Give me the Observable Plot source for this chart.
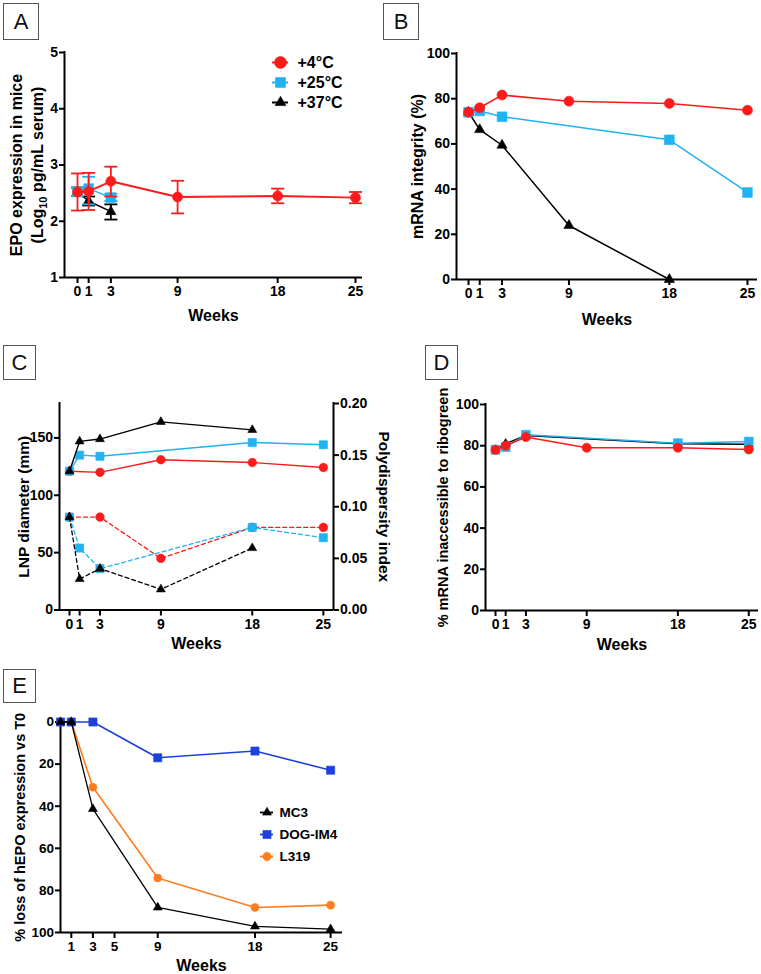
<!DOCTYPE html>
<html><head><meta charset="utf-8">
<script src="https://cdn.jsdelivr.net/npm/d3@7"></script>
<script src="https://cdn.jsdelivr.net/npm/@observablehq/plot@0.6"></script>
<style>
body{margin:0;background:#fff;}
#fig{position:relative;width:761px;height:974px;overflow:hidden;background:#fff;font-family:"Liberation Sans",Arial,Helvetica,sans-serif;}
.plab{position:absolute;border:1px solid #555;font-size:22px;display:flex;align-items:center;justify-content:center;color:#111;box-sizing:border-box;background:#fff;}
</style></head><body><div id="fig"></div>
<script>
// ---------------- DATA ----------------
const weekTicks = [0, 1, 3, 9, 18, 25];
const weekTicksE = [1, 3, 5, 9, 18, 25];
const tempNames = ["+4°C", "+25°C", "+37°C"];
const lipidNames = ["MC3", "DOG-IM4", "L319"];

// Panel A: EPO expression (log10 pg/mL), mean and error limits
const aWeeks4 = [0, 1, 3, 9, 18, 25];
const aMean4 = [2.52, 2.53, 2.71, 2.43, 2.45, 2.42];
const aLo4 = [2.19, 2.20, 2.44, 2.14, 2.32, 2.32];
const aHi4 = [2.85, 2.86, 2.97, 2.72, 2.58, 2.52];
const aWeeks25 = [0, 1, 3];
const aMean25 = [2.52, 2.58, 2.42];
const aLo25 = [2.45, 2.30, 2.36];
const aHi25 = [2.60, 2.79, 2.49];
const aWeeks37 = [0, 1, 3];
const aMean37 = [2.52, 2.36, 2.17];
const aLo37 = [2.45, 2.28, 2.03];
const aHi37 = [2.60, 2.44, 2.30];

// Panel B: mRNA integrity (%)
const bWeeks4 = [0, 1, 3, 9, 18, 25];
const bVal4 = [74, 76, 81.6, 78.9, 77.9, 74.9];
const bWeeks25 = [0, 1, 3, 18, 25];
const bVal25 = [74, 74.6, 72, 61.8, 38.5];
const bWeeks37 = [0, 1, 3, 9, 18];
const bVal37 = [74, 66.3, 59.4, 23.9, 0];

// Panel C: LNP diameter (solid) and polydispersity index (dashed)
const cWeeks4 = [0, 3, 9, 18, 25];
const cDiam4 = [121, 120, 131, 128.6, 124.2];
const cPdi4 = [0.09, 0.09, 0.05, 0.08, 0.08];
const cWeeks25 = [0, 1, 3, 18, 25];
const cDiam25 = [121, 135, 134, 146, 144];
const cPdi25 = [0.09, 0.06, 0.04, 0.08, 0.07];
const cWeeks37 = [0, 1, 3, 9, 18];
const cDiam37 = [121, 147, 149, 164, 157];
const cPdi37 = [0.09, 0.03, 0.04, 0.02, 0.06];

// Panel D: % mRNA inaccessible to ribogreen
const dWeeks4 = [0, 1, 3, 9, 18, 25];
const dVal4 = [78, 80, 84.2, 79, 79, 78.2];
const dWeeks25 = [0, 1, 3, 18, 25];
const dVal25 = [78, 79.3, 85.3, 81.2, 82];
const dWeeks37 = [0, 1, 3, 18, 25];
const dVal37 = [78, 81, 85, 81, 80.7];

// Panel E: % loss of hEPO expression vs T0
const eWeeks = [0, 1, 3, 9, 18, 25];
const eMC3 = [0, 0, 41.3, 88.1, 97.1, 98.4];
const eDOG = [0, 0, 0, 17, 13.8, 22.9];
const eL319 = [0, 0, 31, 74.1, 88.1, 87];

// ---------------- STYLE ----------------
const FONT = '"Liberation Sans", Arial, Helvetica, sans-serif';
const RED = "#fd1a1a", SKY = "#21b2f2", BLACK = "#000000", NAVY = "#1e40dd", ORANGE = "#ff7d20";
const tempColors = [RED, SKY, BLACK];
const tempSymbols = ["circle", "square", "triangle"];
const lipidColors = [BLACK, NAVY, ORANGE];
const lipidSymbols = ["triangle", "square", "circle"];

const fig = document.getElementById("fig");
function mount(svg, box) {
  svg.style.position = "absolute";
  svg.style.left = box.L + "px";
  svg.style.top = box.T + "px";
  svg.style.maxWidth = "none";
  fig.appendChild(svg);
  return svg;
}
function frame(box, p) {
  return {width: box.W, height: box.H,
    marginLeft: p.x0 - box.L, marginRight: box.L + box.W - p.x1,
    marginTop: p.y0 - box.T, marginBottom: box.T + box.H - p.y1};
}
function style(fs) {
  return {fontFamily: FONT, fontSize: fs + "px", fontWeight: "bold", color: "#000", background: "transparent", overflow: "visible"};
}
const pts = (xs, ys) => xs.map((x, i) => ({x, y: ys[i]}));
function series(data, color, symbol, r, sw, dash, k = 1) {
  return [
    Plot.line(data, {x: "x", y: d => d.y * k, stroke: color, strokeWidth: sw, strokeDasharray: dash}),
    Plot.dot(data, {x: "x", y: d => d.y * k, symbol, r, fill: color, stroke: color, strokeWidth: 0.6})
  ];
}
function symR(symbol, rs) { return symbol === "circle" ? rs[0] : symbol === "square" ? rs[1] : rs[2]; }
const capSymbol = {draw(ctx, size) { const r = Math.sqrt(size / Math.PI); ctx.moveTo(-r, 0); ctx.lineTo(r, 0); }};
function errs(xs, lo, hi, color) {
  const d = xs.map((x, i) => ({x, lo: lo[i], hi: hi[i]}));
  return [
    Plot.ruleX(d, {x: "x", y1: "lo", y2: "hi", stroke: color, strokeWidth: 1.8}),
    Plot.dot(d, {x: "x", y: "lo", symbol: capSymbol, r: 6.5, stroke: color, strokeWidth: 1.8, fill: "none"}),
    Plot.dot(d, {x: "x", y: "hi", symbol: capSymbol, r: 6.5, stroke: color, strokeWidth: 1.8, fill: "none"})
  ];
}
function frameAxes(xDom, yDom, xt, yt, opts = {}) {
  return [
    Plot.ruleY([yDom[opts.reverse ? 1 : 0]], {strokeWidth: 2}),
    Plot.ruleX([xDom[0]], {strokeWidth: 2, strokeLinecap: "square"}),
    Plot.axisX({ticks: xt, tickSize: 6, tickPadding: 3, strokeWidth: 2, label: null, tickFormat: d => String(d)}),
    Plot.axisY({ticks: yt, tickSize: 5, tickPadding: 1.5, strokeWidth: 2, label: null, tickFormat: opts.yfmt ?? (d => String(d))})
  ];
}
function xTitle(dy, fs = 16) {
  return Plot.text(["Weeks"], {text: d => d, frameAnchor: "bottom", dy, lineAnchor: "middle", textAnchor: "middle", fontSize: fs});
}
function yTitle(t, dx, fs = 15, side = "left") {
  return Plot.text([t], {text: d => d, frameAnchor: side, rotate: side === "left" ? -90 : 90, dx, lineAnchor: "middle", textAnchor: "middle", fontSize: fs});
}
function legend(box, p, names, colors, symbols, rs, fs, textDx, lineW) {
  const marks = [];
  names.forEach((n, i) => {
    marks.push(Plot.tickY([n], {y: d => d, stroke: colors[i], strokeWidth: lineW}));
    marks.push(Plot.dot([n], {y: d => d, symbol: symbols[i], r: symR(symbols[i], rs), fill: colors[i], stroke: colors[i], strokeWidth: 0.6}));
    marks.push(Plot.text([n], {y: d => d, text: d => d, frameAnchor: "right", dx: textDx, textAnchor: "start", fontSize: fs}));
  });
  const svg = Plot.plot({...frame(box, p), style: style(fs),
    y: {type: "point", domain: names, padding: 0, axis: null}, marks});
  return mount(svg, box);
}
function panelLabel(t, L, T, W, H) {
  const d = document.createElement("div");
  d.className = "plab"; d.textContent = t;
  Object.assign(d.style, {left: L + "px", top: T + "px", width: W + "px", height: H + "px"});
  fig.appendChild(d);
}

// ---------------- PANEL A ----------------
{
  const box = {L: 0, T: 0, W: 380, H: 330}, p = {x0: 64, x1: 362, y0: 52, y1: 277};
  const xDom = [-1.17, 25.63], yDom = [1, 5];
  const rs = [5, 5.5, 3.8];
  const svg = Plot.plot({...frame(box, p), style: style(14),
    x: {domain: xDom}, y: {domain: yDom},
    marks: [
      ...frameAxes(xDom, yDom, weekTicks, [1, 2, 3, 4, 5]),
      ...errs(aWeeks37, aLo37, aHi37, BLACK),
      ...series(pts(aWeeks37, aMean37), BLACK, "triangle", rs[2], 1.5),
      ...errs(aWeeks25, aLo25, aHi25, SKY),
      ...series(pts(aWeeks25, aMean25), SKY, "square", rs[1], 1.5),
      ...errs(aWeeks4, aLo4, aHi4, RED),
      ...series(pts(aWeeks4, aMean4), RED, "circle", rs[0], 2),
      xTitle(38),
      yTitle("EPO expression in mice", -48, 16),
      yTitle("(Log10 pg/mL serum)", -27, 16)
    ]});
  mount(svg, box);
  d3.select(svg).selectAll("text").filter(function () { return this.textContent === "(Log10 pg/mL serum)"; }).each(function () {
    const t = d3.select(this); t.text(null);
    t.append("tspan").text("(Log");
    t.append("tspan").attr("font-size", "11px").attr("dy", 4).text("10");
    t.append("tspan").attr("dy", -4).text(" pg/mL serum)");
  });
  legend({L: 262, T: 48, W: 100, H: 66}, {x0: 272, x1: 288, y0: 61, y1: 102},
    tempNames, tempColors, tempSymbols, [6, 5.6, 4], 16, 9, 2);
}

// ---------------- PANEL B ----------------
{
  const box = {L: 380, T: 0, W: 381, H: 330}, p = {x0: 456, x1: 757, y0: 53, y1: 279};
  const xDom = [-1.08, 25.9], yDom = [0, 100];
  const rs = [5, 5.5, 3.8];
  const svg = Plot.plot({...frame(box, p), style: style(14),
    x: {domain: xDom}, y: {domain: yDom},
    marks: [
      ...frameAxes(xDom, yDom, weekTicks, [0, 20, 40, 60, 80, 100]),
      ...series(pts(bWeeks37, bVal37), BLACK, "triangle", rs[2], 1.5),
      ...series(pts(bWeeks25, bVal25), SKY, "square", rs[1], 1.5),
      ...series(pts(bWeeks4, bVal4), RED, "circle", rs[0], 1.6),
      xTitle(40),
      yTitle("mRNA integrity (%)", -39, 16)
    ]});
  mount(svg, box);
}

// ---------------- PANEL C ----------------
{
  const box = {L: 0, T: 330, W: 380, H: 320}, p = {x0: 59, x1: 333, y0: 403, y1: 609.5};
  const xDom = [-0.985, 26.0], yDom = [0, 180];
  const pdiMax = 0.2, k = yDom[1] / pdiMax;
  const pdiTicks = [0, 0.05, 0.1, 0.15, 0.2];
  const rs = [4.3, 4.6, 3.3];
  const svg = Plot.plot({...frame(box, p), style: style(14),
    x: {domain: xDom}, y: {domain: yDom},
    marks: [
      ...frameAxes(xDom, yDom, weekTicks, [0, 50, 100, 150]),
      Plot.ruleX([xDom[1]], {strokeWidth: 2, strokeLinecap: "square"}),
      Plot.axisY({anchor: "right", ticks: pdiTicks.map(t => t * k), tickSize: 5, tickPadding: 1.5, strokeWidth: 2, label: null,
        tickFormat: d => (d / k).toFixed(2)}),
      ...series(pts(cWeeks4, cPdi4), RED, "circle", rs[0], 1.3, "4,3", k),
      ...series(pts(cWeeks25, cPdi25), SKY, "square", rs[1], 1.3, "4,3", k),
      ...series(pts(cWeeks37, cPdi37), BLACK, "triangle", rs[2], 1.3, "4,3", k),
      ...series(pts(cWeeks4, cDiam4), RED, "circle", rs[0], 1.4),
      ...series(pts(cWeeks25, cDiam25), SKY, "square", rs[1], 1.4),
      ...series(pts(cWeeks37, cDiam37), BLACK, "triangle", rs[2], 1.4),
      xTitle(34),
      yTitle("LNP diameter (mm)", -35, 15.5),
      yTitle("Polydispersity index", 50, 15.5, "right")
    ]});
  mount(svg, box);
}

// ---------------- PANEL D ----------------
{
  const box = {L: 380, T: 330, W: 381, H: 320}, p = {x0: 485, x1: 758, y0: 404, y1: 610};
  const xDom = [-0.99, 25.96], yDom = [0, 100];
  const rs = [4.6, 5, 3.3];
  const svg = Plot.plot({...frame(box, p), style: style(14),
    x: {domain: xDom}, y: {domain: yDom},
    marks: [
      ...frameAxes(xDom, yDom, weekTicks, [0, 20, 40, 60, 80, 100]),
      ...series(pts(dWeeks37, dVal37), BLACK, "triangle", rs[2], 1.5),
      ...series(pts(dWeeks25, dVal25), SKY, "square", rs[1], 1.5),
      ...series(pts(dWeeks4, dVal4), RED, "circle", rs[0], 1.5),
      xTitle(34),
      yTitle("% mRNA inaccessible to ribogreen", -42, 14.5)
    ]});
  mount(svg, box);
}

// ---------------- PANEL E ----------------
{
  const box = {L: 0, T: 650, W: 380, H: 324}, p = {x0: 60, x1: 342, y0: 721.5, y1: 932};
  const xDom = [0, 26.1], yDom = [0, 100];
  const rs = [4, 4.6, 3.3];
  const svg = Plot.plot({...frame(box, p), style: style(13.5),
    x: {domain: xDom}, y: {domain: yDom, reverse: true},
    marks: [
      ...frameAxes(xDom, yDom, weekTicksE, [0, 20, 40, 60, 80, 100], {reverse: true}),
      ...series(pts(eWeeks, eL319), ORANGE, "circle", rs[0], 1.6),
      ...series(pts(eWeeks, eDOG), NAVY, "square", rs[1], 1.6),
      ...series(pts(eWeeks, eMC3), BLACK, "triangle", rs[2], 1.3),
      xTitle(33),
      yTitle("% loss of hEPO expression vs T0", -40, 14.5)
    ]});
  mount(svg, box);
  legend({L: 250, T: 800, W: 110, H: 68}, {x0: 260, x1: 273, y0: 811, y1: 856.7},
    lipidNames, lipidColors, lipidSymbols, [4.2, 4.6, 3.3], 13.5, 6, 1.8);
}

// ---------------- PANEL LABELS ----------------
panelLabel("A", 3, 3, 36, 37);
panelLabel("B", 383, 3, 36, 37);
panelLabel("C", 3, 345, 33, 35);
panelLabel("D", 425, 345, 33, 35);
panelLabel("E", 3, 669, 33, 34);
</script></body></html>
